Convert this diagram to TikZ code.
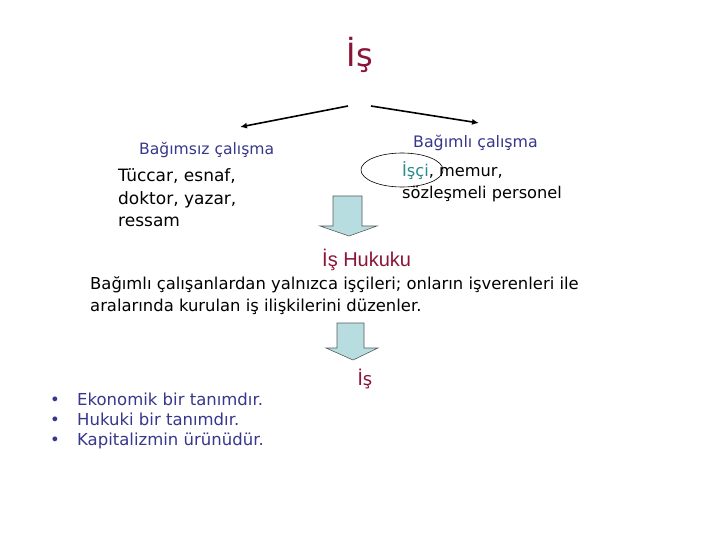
\documentclass[tikz,border=0pt]{standalone}
\usepackage{fontspec}
\setmainfont{DejaVu Sans}
\newfontfamily\arialf{Liberation Sans}
\usetikzlibrary{arrows.meta}
\definecolor{isred}{RGB}{139,21,56}
\definecolor{isblue}{RGB}{55,55,140}
\definecolor{isteal}{RGB}{40,140,140}
\definecolor{arrfill}{RGB}{183,221,224}
\definecolor{arrline}{RGB}{90,90,90}
\begin{document}
\begin{tikzpicture}[x=1pt,y=-1pt,
  body/.style={inner sep=0pt, anchor=west, font=\fontsize{16.4}{22}\selectfont, align=left},
  bluetext/.style={body, text=isblue},
  thinarrow/.style={line width=1.6pt, -{Latex[length=7pt,width=6pt]}},
  blockarrow/.style={fill=arrfill, draw=arrline, line width=0.6pt, line join=miter}]
\useasboundingbox (0,0) rectangle (720,540);
\fill[white] (0,0) rectangle (720,540);

\node[text=isred, inner sep=0pt, font=\fontsize{32}{36}\selectfont] (title) at (360,55) {İş};

\coordinate (lstart) at (348,106);
\coordinate (lend) at (240,127);
\coordinate (rstart) at (371,106);
\coordinate (rend) at (479,123);
\draw[thinarrow] (lstart) -- (lend);
\draw[thinarrow] (rstart) -- (rend);

\node[bluetext, font=\fontsize{15.6}{20}\selectfont] (bagimsiz) at (139,150) {Bağımsız çalışma};
\node[body, font=\fontsize{17}{22.5}\selectfont] (tuccar) at (118,198) {Tüccar, esnaf,\\doktor, yazar,\\ressam};

\node[bluetext, font=\fontsize{15.8}{20}\selectfont] (bagimli) at (413,143) {Bağımlı çalışma};
\node[body, font=\fontsize{16.2}{21.5}\selectfont] (isci) at (402,182) {\textcolor{isteal}{İşçi}, memur,\\sözleşmeli personel};
\draw[line width=0.6pt] (402,170) ellipse [x radius=41, y radius=17];

\draw[blockarrow] (333,196) -- (362,196) -- (362,226) -- (377,226) -- (349,236) -- (320,226) -- (333,226) -- cycle;

\node[text=isred, inner sep=0pt, anchor=west, font=\arialf\fontsize{20}{24}\selectfont] (hukuk) at (322,260) {İş Hukuku};

\node[body] (para) at (90,296) {Bağımlı çalışanlardan yalnızca işçileri; onların işverenleri ile\\aralarında kurulan iş ilişkilerini düzenler.};

\draw[blockarrow] (337,323) -- (364,323) -- (364,348) -- (378,348) -- (353,360) -- (326,348) -- (337,348) -- cycle;

\node[text=isred, inner sep=0pt, font=\fontsize{18}{20}\selectfont] (is2) at (365,379) {İş};

\node[bluetext, font=\fontsize{16.5}{20}\selectfont] (bullets) at (50,421) {\makebox[27pt][l]{•}Ekonomik bir tanımdır.\\\makebox[27pt][l]{•}Hukuki bir tanımdır.\\\makebox[27pt][l]{•}Kapitalizmin ürünüdür.};
\end{tikzpicture}
\end{document}
